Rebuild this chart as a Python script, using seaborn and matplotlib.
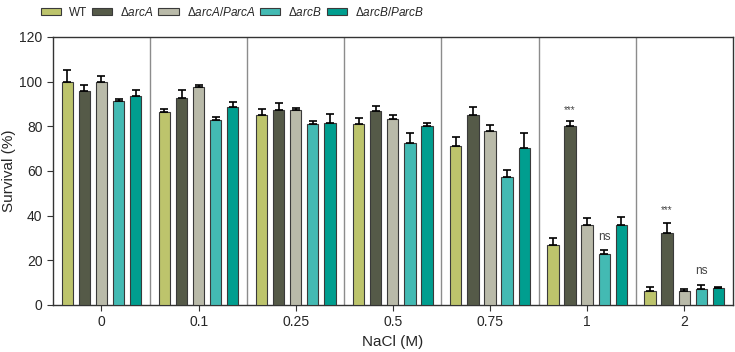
import pandas as pd
import matplotlib.pyplot as plt
import seaborn as sns

# NaCl concentrations (M) and strains
nacl = ['0', '0.1', '0.25', '0.5', '0.75', '1', '2']
strains = ['WT', 'ΔarcA', 'ΔarcA/ParcA', 'ΔarcB', 'ΔarcB/ParcB']

# survival (%) per strain, one value per NaCl concentration
wt = [99.7, 86.3, 85.0, 80.9, 71.1, 26.9, 6.3]
arcA = [95.8, 92.6, 87.3, 86.7, 85.1, 80.2, 32.1]
arcA_comp = [99.6, 97.5, 87.2, 83.3, 77.9, 35.8, 6.3]
arcB = [91.2, 82.7, 81.1, 72.5, 57.3, 22.8, 7.0]
arcB_comp = [93.4, 88.5, 81.5, 80.3, 70.2, 35.7, 7.6]

# upper error (SD)
wt_err = [5.3, 1.3, 2.6, 2.7, 4.0, 3.2, 1.6]
arcA_err = [2.5, 3.7, 3.0, 2.5, 3.7, 2.1, 4.6]
arcA_comp_err = [3.0, 1.2, 1.0, 1.8, 2.8, 3.0, 0.9]
arcB_err = [0.9, 1.3, 1.3, 4.4, 3.2, 1.8, 1.8]
arcB_comp_err = [3.0, 2.4, 4.0, 1.3, 6.8, 3.6, 0.6]

colors = ['#bdc46c', '#555a48', '#b9baa9', '#43bab3', '#009e8f']

# significance marks: (NaCl index, strain index, label, y)
marks = [(5, 1, '***', 85), (6, 1, '***', 40), (5, 3, 'ns', 27.5), (6, 3, 'ns', 12.5)]

means = [wt, arcA, arcA_comp, arcB, arcB_comp]
errs = [wt_err, arcA_err, arcA_comp_err, arcB_err, arcB_comp_err]

rows = []
for s, vals in zip(strains, means):
    for c, v in zip(nacl, vals):
        rows.append({'NaCl': c, 'strain': s, 'survival': v})
df = pd.DataFrame(rows)

sns.set_style('ticks')
plt.rcParams['font.family'] = ['Liberation Sans', 'DejaVu Sans']
plt.rcParams['mathtext.fontset'] = 'custom'
plt.rcParams['mathtext.it'] = 'Liberation Sans:italic'
plt.rcParams['mathtext.rm'] = 'Liberation Sans'

fig, ax = plt.subplots(figsize=(7.35, 3.52), dpi=100)
fig.subplots_adjust(left=0.072, right=0.997, top=0.895, bottom=0.134)

sns.barplot(data=df, x='NaCl', y='survival', hue='strain', order=nacl,
            hue_order=strains, palette=colors, saturation=1, width=0.88,
            gap=0.34, edgecolor='#3a3a3a', linewidth=0.8, errorbar=None,
            ax=ax, zorder=3)

# one-sided error bars on top of each bar
for cont, err in zip(ax.containers, errs):
    xs = [p.get_x() + p.get_width() / 2 for p in cont.patches]
    hs = [p.get_height() for p in cont.patches]
    ax.errorbar(xs, hs, yerr=[[0] * len(err), err], fmt='none',
                ecolor='black', elinewidth=1.2, capsize=3, capthick=1.2,
                zorder=4)

for gi, si, txt, y in marks:
    p = ax.containers[si].patches[gi]
    ax.text(p.get_x() + p.get_width() / 2, y, txt, ha='center', va='bottom',
            fontsize=8.5 if txt == 'ns' else 7, color='#444444')

# group separators
for i in range(len(nacl) - 1):
    ax.axvline(i + 0.5, color='#8c8c8c', linewidth=1, zorder=1)

ax.set_xlim(-0.5, len(nacl) - 0.5)
ax.set_ylim(0, 120)
ax.set_yticks(range(0, 121, 20))
ax.set_xlabel('NaCl (M)', fontsize=11)
ax.set_ylabel('Survival (%)', fontsize=11, labelpad=2)
ax.tick_params(labelsize=10, length=4, color='#333333')
for sp in ax.spines.values():
    sp.set_color('#333333')
    sp.set_linewidth(1)

labels = ['WT', r'$\Delta\mathit{arcA}$', r'$\Delta\mathit{arcA/ParcA}$',
          r'$\Delta\mathit{arcB}$', r'$\Delta\mathit{arcB/ParcB}$']
handles = ax.get_legend_handles_labels()[0]
ax.get_legend().remove()
fig.legend(handles, labels, ncol=5, frameon=False, loc='upper left',
           bbox_to_anchor=(0.049, 0.997), handlelength=1.7, handleheight=0.55,
           handletextpad=0.7, columnspacing=0.4, fontsize=8.5, borderaxespad=0)

plt.savefig('out.png', dpi=100)
